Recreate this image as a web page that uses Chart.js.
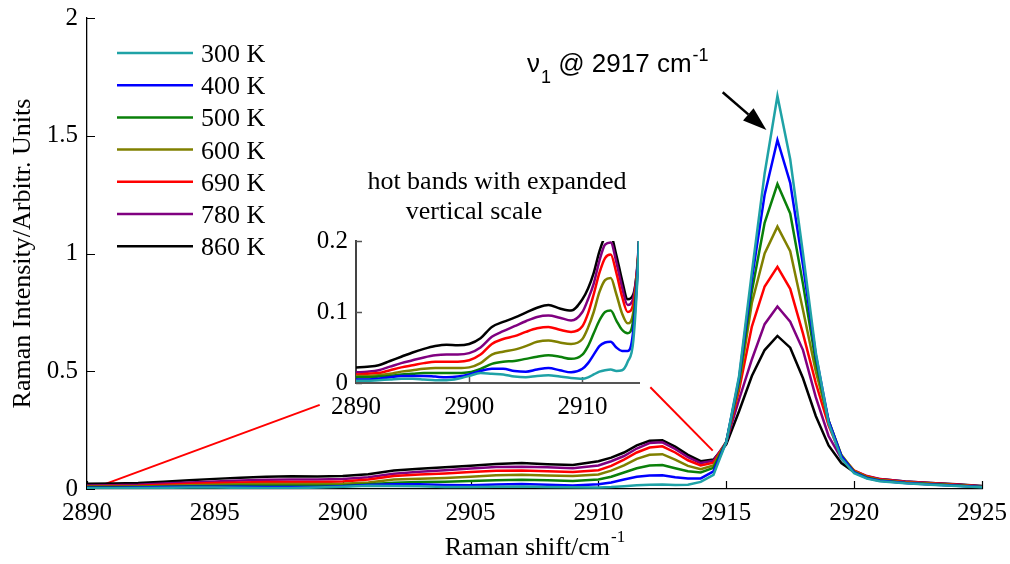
<!DOCTYPE html>
<html><head><meta charset="utf-8">
<script src="https://cdn.jsdelivr.net/npm/chart.js@4.4.0/dist/chart.umd.min.js"></script>
<style>
html,body{margin:0;padding:0;background:#fff;}
#wrap{position:relative;width:1010px;height:564px;background:#fff;}
#main{position:absolute;left:0;top:0;}
#inset{position:absolute;left:290px;top:220px;}
</style></head><body>
<div id="wrap"><canvas id="main" width="1010" height="564"></canvas><canvas id="inset" width="360" height="200"></canvas></div>
<script>
// ---- data ----
const shifts = [2890,2891,2892,2893,2894,2895,2896,2897,2898,2899,2900,2901,2902,2903,2904,2905,2906,2907,2908,2909,2910,2910.5,2911,2911.5,2912,2912.5,2913,2913.5,2914,2914.5,2915,2915.5,2916,2916.5,2917,2917.5,2918,2918.5,2919,2919.5,2920,2920.5,2921,2922,2923,2924,2925];
const k300 = [.003,.003,.004,.005,.006,.006,.005,.004,.004,.006,.010,.014,.013,.012,.009,.008,.010,.011,.009,.007,.006,.008,.012,.016,.018,.019,.017,.018,.030,.060,.200,.480,.920,1.340,1.669,1.400,1.000,.580,.280,.130,.067,.044,.033,.024,.018,.013,.007];
const k400 = [.005,.005,.006,.008,.010,.010,.010,.009,.008,.009,.012,.017,.020,.020,.017,.016,.019,.021,.018,.015,.020,.028,.040,.052,.057,.058,.050,.045,.045,.075,.200,.470,.890,1.250,1.482,1.300,.950,.570,.290,.140,.070,.046,.035,.025,.019,.014,.008];
const k500 = [.008,.008,.009,.010,.012,.013,.014,.014,.014,.014,.015,.020,.027,.030,.031,.034,.037,.039,.037,.034,.040,.052,.070,.088,.100,.102,.088,.075,.070,.090,.200,.460,.840,1.130,1.295,1.170,.870,.540,.290,.140,.072,.048,.036,.026,.020,.015,.009];
const k600 = [.010,.010,.011,.013,.016,.018,.020,.021,.021,.021,.022,.028,.040,.044,.047,.052,.058,.060,.057,.055,.062,.078,.100,.128,.145,.148,.125,.098,.084,.100,.200,.440,.790,1.000,1.114,1.010,.760,.500,.290,.145,.075,.050,.038,.028,.022,.016,.010];
const k690 = [.012,.013,.014,.018,.022,.025,.028,.030,.030,.030,.032,.040,.055,.062,.066,.072,.077,.079,.075,.072,.080,.098,.125,.155,.176,.181,.155,.122,.100,.112,.200,.420,.690,.860,.943,.850,.660,.450,.270,.140,.078,.054,.041,.030,.024,.018,.011];
const k780 = [.015,.016,.018,.023,.028,.032,.036,.039,.040,.040,.042,.050,.065,.073,.080,.087,.093,.095,.092,.088,.100,.118,.140,.172,.195,.198,.170,.135,.110,.120,.200,.380,.550,.700,.775,.710,.590,.390,.225,.130,.078,.055,.043,.032,.026,.019,.012];
const k860 = [.022,.023,.025,.031,.037,.043,.048,.052,.054,.053,.055,.063,.079,.086,.092,.099,.106,.110,.105,.102,.118,.133,.155,.185,.205,.207,.180,.145,.118,.125,.190,.330,.480,.590,.650,.600,.470,.310,.185,.110,.072,.052,.042,.032,.026,.020,.013];
const seriesLabels = ['300 K','400 K','500 K','600 K','690 K','780 K','860 K'];
const seriesColors = ['#1FA2A6','#0000FF','#0A800A','#808000','#FF0000','#800080','#000000'];
const seriesValues = [k300,k400,k500,k600,k690,k780,k860];
const xTicksMain = [2890,2895,2900,2905,2910,2915,2920,2925];
const yTicksMain = [0,0.5,1,1.5,2];
const xTicksInset = [2890,2900,2910];
const yTicksInset = [0,0.1,0.2];
const connectorLeftX = [2890.3,2899.1];
const connectorLeftY = [0.005,0.357];
const connectorRightX = [2912.03,2914.47];
const connectorRightY = [0.432,0.163];
const arrowX = [2914.86,2916.57];
const arrowY = [1.685,1.524];

const SERIF = "'Liberation Serif','Times New Roman',serif";
const SANS = "'Liberation Sans',Arial,sans-serif";
Chart.defaults.font.family = SERIF;
Chart.defaults.color = '#000';

function makeSeries(smooth){
  return seriesValues.map((vals,i)=>({
    label: seriesLabels[i],
    data: shifts.map((x,j)=>({x:x,y:vals[j]})),
    borderColor: seriesColors[i],
    backgroundColor: seriesColors[i],
    borderWidth: 2.5,
    pointRadius: 0,
    fill: false,
    cubicInterpolationMode: smooth ? 'monotone' : 'default',
    tension: 0
  }));
}
function connector(xs,ys){
  return {label:'', data: xs.map((x,i)=>({x:x,y:ys[i]})), borderColor:'#FF0000', borderWidth:2, pointRadius:0, fill:false, isConnector:true};
}

const inwardTicks = {
  id:'inwardTicks',
  beforeDatasetsDraw(chart, args, opts){
    const ctx = chart.ctx, ca = chart.chartArea, xs = chart.scales.x, ys = chart.scales.y;
    ctx.save();
    ctx.strokeStyle = opts.color || '#000';
    ctx.lineWidth = opts.width || 1.2;
    ctx.beginPath();
    xs.ticks.forEach(t=>{ const p = Math.round(xs.getPixelForValue(t.value))+0.5; ctx.moveTo(p, ca.bottom); ctx.lineTo(p, ca.bottom-opts.len); });
    ys.ticks.forEach(t=>{ const p = Math.round(ys.getPixelForValue(t.value))+0.5; ctx.moveTo(ca.left, p); ctx.lineTo(ca.left+opts.len, p); });
    ctx.stroke();
    ctx.restore();
  }
};

const decorations = {
  id:'decorations',
  afterDraw(chart){
    const ctx = chart.ctx, ca = chart.chartArea, xs = chart.scales.x, ys = chart.scales.y;
    ctx.save();
    // legend
    ctx.font = '26px ' + SERIF;
    ctx.textAlign = 'left';
    ctx.textBaseline = 'alphabetic';
    chart.data.datasets.forEach((ds,i)=>{
      if (ds.isConnector) return;
      const y = 53 + i*32.2;
      ctx.strokeStyle = ds.borderColor; ctx.lineWidth = 2.5;
      ctx.beginPath(); ctx.moveTo(117,y); ctx.lineTo(193,y); ctx.stroke();
      ctx.fillStyle = '#000';
      ctx.fillText(ds.label, 201, y+9);
    });
    // inset title
    ctx.textAlign = 'center';
    ctx.font = '26px ' + SERIF;
    ctx.fillText('hot bands with expanded', 497, 189);
    ctx.fillText('vertical scale', 474, 219);
    // nu1 annotation
    ctx.textAlign = 'left';
    ctx.font = '26px ' + SANS;
    let x = 527;
    ctx.fillText('\u03BD', x, 72); x += ctx.measureText('\u03BD').width + 1;
    ctx.font = '18px ' + SANS;
    ctx.fillText('1', x, 83); x += ctx.measureText('1').width;
    ctx.font = '26px ' + SANS;
    ctx.fillText(' @ 2917 cm', x, 72); x += ctx.measureText(' @ 2917 cm').width + 1;
    ctx.font = '18px ' + SANS;
    ctx.fillText('-1', x, 61);
    // arrow
    const x0 = xs.getPixelForValue(arrowX[0]), y0 = ys.getPixelForValue(arrowY[0]);
    const x1 = xs.getPixelForValue(arrowX[1]), y1 = ys.getPixelForValue(arrowY[1]);
    const ang = Math.atan2(y1-y0, x1-x0), L = 24, W = 8;
    const bx = x1 - L*Math.cos(ang), by = y1 - L*Math.sin(ang);
    ctx.strokeStyle = '#000'; ctx.lineWidth = 2.5;
    ctx.beginPath(); ctx.moveTo(x0,y0); ctx.lineTo(bx,by); ctx.stroke();
    ctx.fillStyle = '#000';
    ctx.beginPath();
    ctx.moveTo(x1,y1);
    ctx.lineTo(bx + W*Math.sin(ang), by - W*Math.cos(ang));
    ctx.lineTo(bx - W*Math.sin(ang), by + W*Math.cos(ang));
    ctx.closePath(); ctx.fill();
    // x-axis title with superscript
    ctx.font = '26px ' + SERIF;
    const main = 'Raman shift/cm', sup = '-1';
    const wMain = ctx.measureText(main).width;
    ctx.font = '17px ' + SERIF;
    const wSup = ctx.measureText(sup).width;
    const cx = (ca.left + ca.right)/2;
    const sx = cx - (wMain + wSup)/2;
    ctx.font = '26px ' + SERIF;
    ctx.fillText(main, sx, 555);
    ctx.font = '17px ' + SERIF;
    ctx.fillText(sup, sx + wMain + 1, 542);
    ctx.restore();
  }
};

const mainDatasets = makeSeries(false);
mainDatasets.push(connector(connectorLeftX, connectorLeftY));
mainDatasets.push(connector(connectorRightX, connectorRightY));

new Chart(document.getElementById('main'), {
  type:'line',
  data:{datasets: mainDatasets},
  plugins:[inwardTicks, decorations],
  options:{
    responsive:false, animation:false, devicePixelRatio:1,
    layout:{padding:{top:18,right:28,left:0,bottom:0}},
    plugins:{legend:{display:false}, tooltip:{enabled:false}, inwardTicks:{len:8,color:'#000',width:1.2}},
    scales:{
      x:{type:'linear', min:2890, max:2925,
        afterBuildTicks:s=>{ s.ticks = xTicksMain.map(v=>({value:v})); },
        ticks:{callback:v=>String(v), font:{size:25}, color:'#000', padding:9, maxRotation:0, autoSkip:false},
        grid:{display:false, drawTicks:false},
        border:{display:true, color:'#000', width:1.3},
        afterFit:s=>{ s.height = 75; s.paddingRight = 0; s.paddingLeft = 0; }},
      y:{type:'linear', min:0, max:2,
        afterBuildTicks:s=>{ s.ticks = yTicksMain.map(v=>({value:v})); },
        ticks:{callback:v=>String(v), font:{size:25}, color:'#000', padding:9},
        grid:{display:false, drawTicks:false},
        border:{display:true, color:'#000', width:1.3},
        title:{display:true, text:'Raman Intensity/Arbitr. Units', font:{size:26}, color:'#000', padding:{top:8,bottom:0}},
        afterFit:s=>{ s.width = 87; s.paddingTop = 0; s.paddingBottom = 0; }}
    }
  }
});

new Chart(document.getElementById('inset'), {
  type:'line',
  data:{datasets: makeSeries(true)},
  plugins:[inwardTicks],
  options:{
    responsive:false, animation:false, devicePixelRatio:1,
    layout:{padding:{top:21,right:11,left:0,bottom:0}},
    plugins:{legend:{display:false}, tooltip:{enabled:false}, inwardTicks:{len:6,color:'#555',width:1.5}},
    scales:{
      x:{type:'linear', min:2890, max:2915,
        afterBuildTicks:s=>{ s.ticks = xTicksInset.map(v=>({value:v})); },
        ticks:{callback:v=>String(v), font:{size:25}, color:'#000', padding:9, maxRotation:0, autoSkip:false},
        grid:{display:false, drawTicks:false},
        border:{display:true, color:'#555', width:2},
        afterFit:s=>{ s.height = 37; s.paddingRight = 0; s.paddingLeft = 0; }},
      y:{type:'linear', min:0, max:0.2,
        afterBuildTicks:s=>{ s.ticks = yTicksInset.map(v=>({value:v})); },
        ticks:{callback:v=>String(v), font:{size:25}, color:'#000', padding:8},
        grid:{display:false, drawTicks:false},
        border:{display:true, color:'#444', width:2},
        afterFit:s=>{ s.width = 66; s.paddingTop = 0; s.paddingBottom = 0; }}
    }
  }
});
</script>
</body></html>
